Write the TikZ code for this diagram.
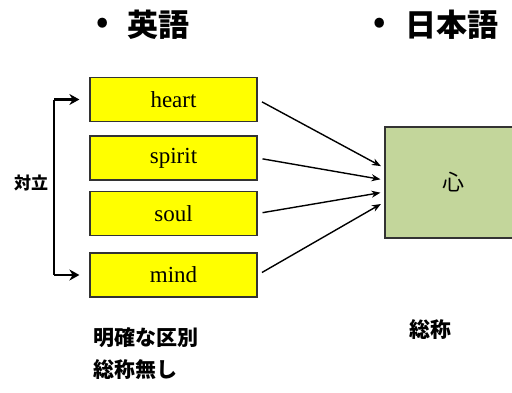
\documentclass[tikz,border=0pt]{standalone}
\usepackage{fontspec}
\setmainfont{Liberation Serif}
\newfontfamily\jp{Noto Sans CJK JP}
\usetikzlibrary{arrows.meta,calc}
\definecolor{boxyellow}{HTML}{FFFF00}
\definecolor{boxgreen}{HTML}{C3D69B}
\definecolor{edgegray}{HTML}{333333}
\tikzset{
  word/.style={draw=edgegray, line width=1.2pt, fill=boxyellow, minimum width=167pt, minimum height=44pt, inner sep=0pt, font=\fontsize{23}{23}\selectfont},
  kokoro/.style={draw=edgegray, line width=1.2pt, fill=boxgreen, minimum width=136pt, minimum height=111pt, inner sep=0pt, font=\jp\fontsize{22}{22}\selectfont},
  title/.style={font=\jp\bfseries\fontsize{31}{31}\selectfont, inner sep=0pt},
  note/.style={font=\jp\bfseries\fontsize{21}{21}\selectfont, inner sep=0pt},
  conn/.style={line width=1.4pt, -{Stealth[length=9pt,width=7pt]}, shorten <=5pt, shorten >=4pt},
  bracket/.style={line width=2.8pt, -{Stealth[length=10pt,width=11pt]}}
}
\begin{document}
\begin{tikzpicture}[x=1pt,y=-1pt]
\useasboundingbox (0,0) rectangle (512,392);
% titles
\node[title] (b1) at (103,25) {•};
\node[title] (t1) at (158,25) {英語};
\node[title] (b2) at (380,25) {•};
\node[title] (t2) at (452,25) {日本語};
% English boxes
\node[word] (heart) at (173.5,99.5) {heart};
\node[word] (spirit) at (173.5,158) {spirit};
\node[word] (soul) at (173.5,213.5) {soul};
\node[word] (mind) at (173.5,275) {mind};
% Japanese box
\node[kokoro] (kokoro) at (453,182.5) {心};
% bracket
\coordinate (bt) at (54,99.5);
\coordinate (bb) at (54,275);
\draw[bracket] (bt) -- ([xshift=-10pt]heart.west);
\draw[bracket] (bb) -- ([xshift=-10pt]mind.west);
\draw[line width=2.8pt] (bt) -- (bb);
\node[font=\jp\bfseries\fontsize{17}{17}\selectfont, inner sep=0pt] (taiz) at (31,183) {対立};
% connectors
\draw[conn] (heart.east) -- ($(kokoro.west)+(0,-14.5)$);
\draw[conn] (spirit.east) -- ($(kokoro.west)+(0,-2.5)$);
\draw[conn] (soul.east) -- ($(kokoro.west)+(0,9.5)$);
\draw[conn] (mind.east) -- ($(kokoro.west)+(0,19.5)$);
% notes
\node[note, anchor=west] (n1) at (93,338) {明確な区別};
\node[note, anchor=west] (n2) at (93,370) {総称無し};
\node[note] (n3) at (430,330) {総称};
\end{tikzpicture}
\end{document}
